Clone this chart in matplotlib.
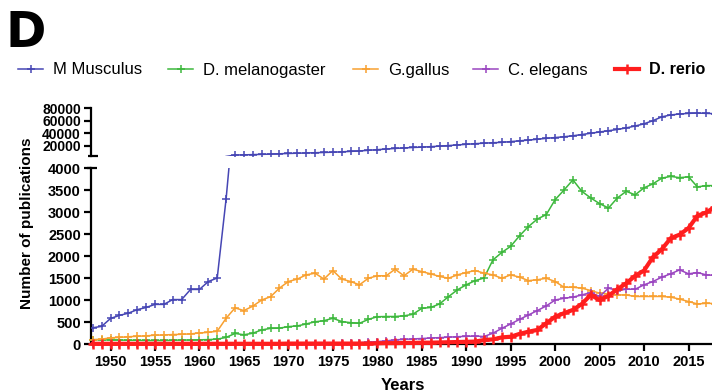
import numpy as np
import matplotlib
matplotlib.use("Agg")
import matplotlib.pyplot as plt
from matplotlib.lines import Line2D

plt.rcParams['font.family'] = ['Liberation Sans', 'DejaVu Sans']

years = np.arange(1948, 2019)

m_musculus = [
    370, 400, 580, 650, 700, 780, 830, 900, 900, 1010, 1010, 1240,           # 1948-1959
    1240, 1420, 1500, 3300, 5500, 5800, 6200, 6600, 7000, 7500,              # 1960-1969
    8000, 8400, 8800, 9200, 9600, 10000, 10600, 11300, 12000, 13000,         # 1970-1979
    14000, 15000, 16000, 16800, 17500, 18000, 18800, 19600, 20500, 21500,    # 1980-1989
    22500, 23500, 24300, 25000, 25600, 26800, 28000, 29200, 30500, 32000,    # 1990-1999
    33200, 34500, 36000, 38000, 40000, 42000, 44000, 46000, 48500, 51500,    # 2000-2009
    55000, 60000, 66000, 69000, 70500, 71500, 72000, 71500, 71000,           # 2010-2018
]
d_melanogaster = [
    100, 95, 90, 90, 85, 85, 80, 80, 80, 85, 90, 90,                         # 1948-1959
    95, 100, 110, 150, 240, 210, 245, 320, 355, 360,                         # 1960-1969
    395, 410, 455, 505, 530, 585, 510, 485, 470, 560,                        # 1970-1979
    620, 625, 625, 640, 675, 810, 830, 910, 1075, 1230,                      # 1980-1989
    1345, 1440, 1500, 1910, 2080, 2220, 2460, 2670, 2840, 2940,              # 1990-1999
    3280, 3500, 3730, 3470, 3320, 3190, 3090, 3320, 3470, 3390,              # 2000-2009
    3550, 3640, 3770, 3810, 3780, 3800, 3570, 3600, 3600,                    # 2010-2018
]
g_gallus = [
    95, 110, 140, 150, 165, 175, 185, 200, 205, 215, 220, 230,               # 1948-1959
    250, 265, 290, 585, 820, 760, 860, 1000, 1075, 1270,                     # 1960-1969
    1420, 1475, 1570, 1610, 1475, 1670, 1475, 1420, 1345, 1495,              # 1970-1979
    1550, 1550, 1700, 1550, 1700, 1645, 1595, 1535, 1495, 1570,              # 1980-1989
    1625, 1670, 1610, 1570, 1495, 1570, 1520, 1440, 1460, 1495,              # 1990-1999
    1420, 1290, 1290, 1270, 1215, 1155, 1140, 1115, 1115, 1080,              # 2000-2009
    1080, 1080, 1080, 1065, 1020, 965, 910, 925, 920,                        # 2010-2018
]
c_elegans = [
    5, 5, 5, 5, 5, 5, 5, 5, 5, 5, 5, 5,                                      # 1948-1959
    5, 5, 5, 5, 5, 5, 10, 10, 10, 10,                                        # 1960-1969
    10, 10, 10, 10, 10, 10, 20, 25, 30, 40,                                  # 1970-1979
    55, 70, 95, 105, 115, 125, 135, 145, 155, 165,                           # 1980-1989
    175, 180, 170, 245, 355, 455, 560, 660, 760, 865,                        # 1990-1999
    1000, 1040, 1065, 1115, 1170, 1080, 1270, 1215, 1245, 1245,              # 2000-2009
    1345, 1420, 1520, 1595, 1685, 1595, 1625, 1570, 1560,                    # 2010-2018
]
d_rerio = [
    5, 5, 5, 5, 5, 5, 5, 5, 5, 5, 5, 5,                                      # 1948-1959
    5, 5, 5, 5, 5, 5, 5, 5, 5, 5,                                            # 1960-1969
    10, 10, 10, 10, 10, 10, 10, 10, 10, 10,                                  # 1970-1979
    15, 20, 20, 25, 25, 30, 30, 35, 40, 45,                                  # 1980-1989
    50, 55, 90, 105, 150, 165, 230, 280, 320, 470,                           # 1990-1999
    620, 700, 775, 910, 1115, 1000, 1095, 1245, 1380, 1550,                  # 2000-2009
    1670, 1975, 2155, 2405, 2485, 2635, 2915, 2990, 3120,                    # 2010-2018
]

series = [
    ("M Musculus", m_musculus, "#4646B4"),
    ("D. melanogaster", d_melanogaster, "#3DB83D"),
    ("G.gallus", g_gallus, "#F8A030"),
    ("C. elegans", c_elegans, "#9A45C0"),
    ("D. rerio", d_rerio, "#FF1E1E"),
]

x_ticks = [1950, 1955, 1960, 1965, 1970, 1975, 1980, 1985, 1990, 1995, 2000, 2005, 2010, 2015]
low_ticks = [0, 500, 1000, 1500, 2000, 2500, 3000, 3500, 4000]
high_ticks = [20000, 40000, 60000, 80000]

LOW_MAX, HIGH_MIN, HIGH_MAX = 4000, 4000, 80000

W, H = 712, 391
fig = plt.figure(figsize=(W / 100, H / 100), dpi=100)

def fx(px):
    return px / W

def fy(py):
    return 1 - py / H

left_px, right_px = 90.5, 712
ax = fig.add_axes([fx(left_px), fy(344), fx(right_px - left_px), fy(168) - fy(344)])
axu = fig.add_axes([fx(left_px), fy(156), fx(right_px - left_px), fy(108) - fy(156)])

xlim = (1947.75, 2017.64)
spine_w = 1.6
for a in (ax, axu):
    a.set_xlim(*xlim)
    a.patch.set_alpha(0)
    for s in ("top", "right"):
        a.spines[s].set_visible(False)
    for s in ("left", "bottom"):
        a.spines[s].set_linewidth(spine_w)

axu.spines["bottom"].set_visible(False)
axu.tick_params(axis="x", bottom=False, labelbottom=False)

ax.set_ylim(0, LOW_MAX)
axu.set_ylim(HIGH_MIN, HIGH_MAX)

handles = []
for name, vals, col in series:
    vals = np.asarray(vals, dtype=float)
    assert len(vals) == len(years)
    is_zf = name == "D. rerio"
    lw = 3.0 if is_zf else 1.1
    ms = 7 if is_zf else 5.5
    mew = 1.8 if is_zf else 1.1
    style = dict(color=col, lw=lw, marker="+", ms=ms, mew=mew, zorder=4)
    if name == "M Musculus":
        # lower segment: points up to the break, line runs on into the gap
        h, = ax.plot(years, vals, clip_on=True, **style)
        # upper segment: line from the last point below the break, markers above it
        above = vals > HIGH_MIN
        first = np.argmax(above)
        seg = slice(first - 1, None)
        axu.plot(years[seg], vals[seg], color=col, lw=lw, clip_on=True, zorder=4)
        axu.plot(years[above], vals[above], ls="none", marker="+", ms=ms, mew=mew,
                 color=col, clip_on=True, zorder=4)
    else:
        h, = ax.plot(years, vals, clip_on=False, **style)
    handles.append(h)

tick_font = dict(fontsize=10.5, fontweight="bold")
ax.set_xticks(x_ticks)
ax.set_xticklabels([str(t) for t in x_ticks], **tick_font)
ax.set_yticks(low_ticks)
ax.set_yticklabels([str(t) for t in low_ticks], **tick_font)
axu.set_yticks(high_ticks)
axu.set_yticklabels([str(t) for t in high_ticks], fontsize=10, fontweight="bold")
for a in (ax, axu):
    a.tick_params(axis="both", direction="out", length=5, width=spine_w, pad=2)
ax.tick_params(axis="x", pad=3)

# break caps on the two y-axis segments
cap_kw = dict(color="black", lw=spine_w, transform=fig.transFigure, solid_capstyle="butt")
fig.add_artist(Line2D([fx(87), fx(97)], [fy(168), fy(168)], **cap_kw))
fig.add_artist(Line2D([fx(88), fx(98)], [fy(156), fy(156)], **cap_kw))

fig.text(fx(27), fy(223), "Number of publications", rotation=90, ha="center",
         va="center", fontsize=11, fontweight="bold")
fig.text(fx(403), fy(389.5), "Years", ha="center", va="baseline", fontsize=12,
         fontweight="bold")
fig.text(fx(6), fy(47), "D", ha="left", va="baseline", fontsize=35,
         fontweight="bold", family="DejaVu Sans")

# one legend entry per species, laid out in a single row above the plot
legend_x = [18, 168, 353, 473, 615]
for (name, _, _), h, lx in zip(series, handles, legend_x):
    bold = name == "D. rerio"
    lg = fig.legend([h], [name], loc="center left", bbox_to_anchor=(fx(lx), fy(70)),
                    frameon=False, fontsize=11.6 if bold else 12.0,
                    handlelength=1.5, handletextpad=0.62,
                    borderaxespad=0, borderpad=0)
    if bold:
        lg.get_texts()[0].set_fontweight("bold")

fig.savefig("out.png", dpi=100)
